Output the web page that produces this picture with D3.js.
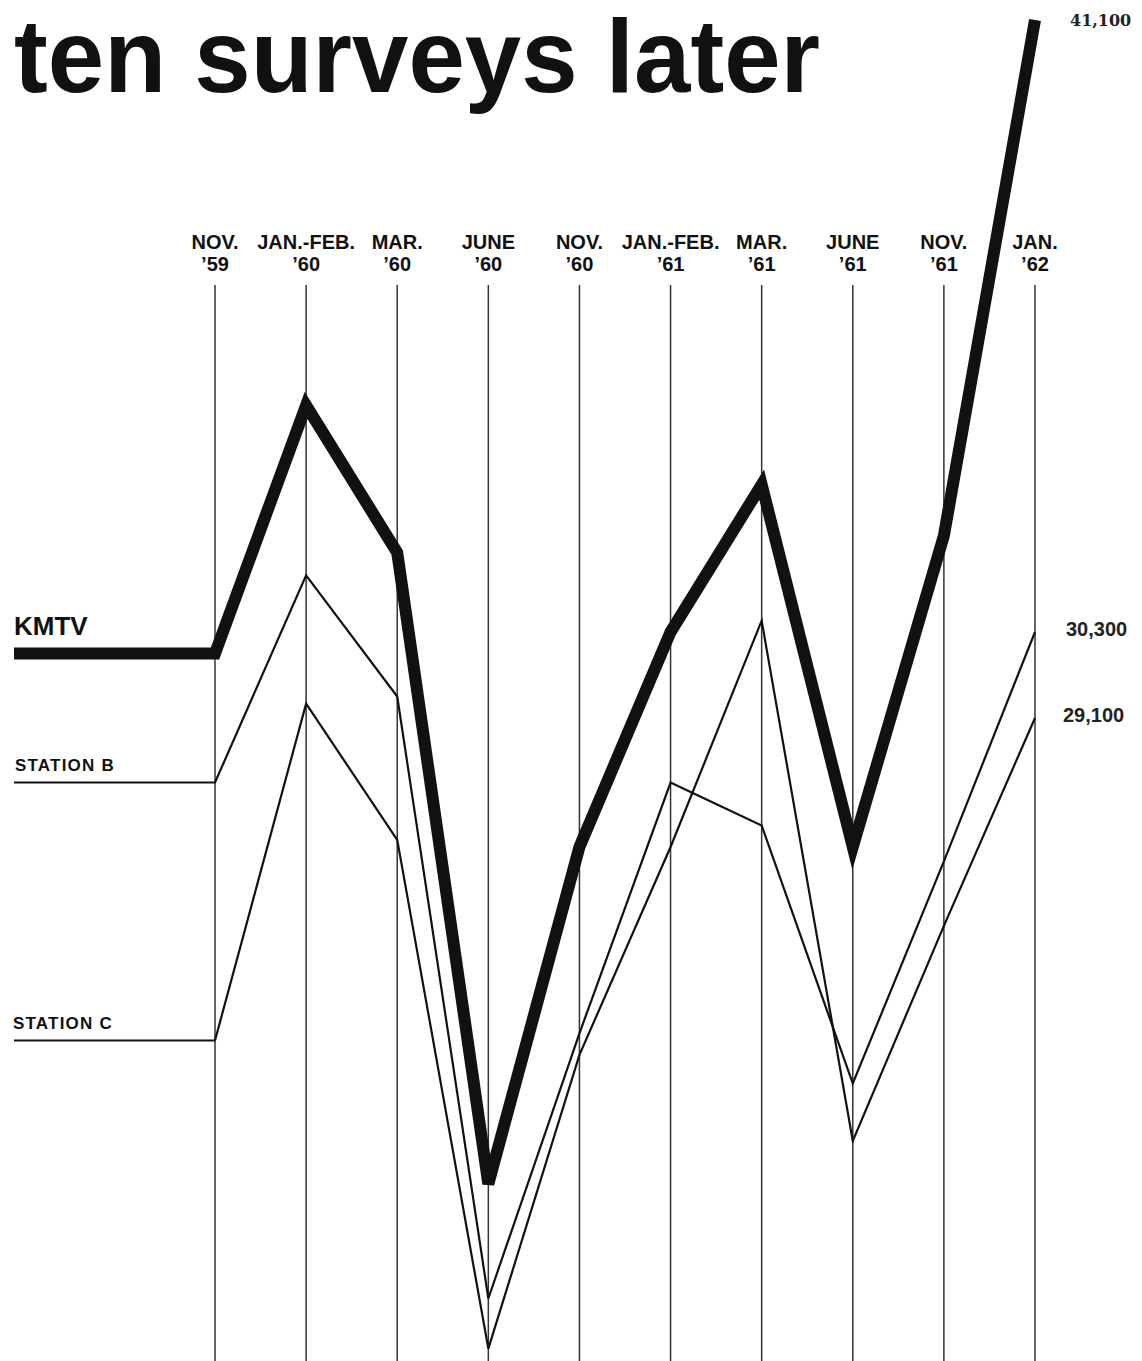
<!DOCTYPE html>
<html lang="en">
<head>
  <meta charset="UTF-8">
  <title>ten surveys later</title>
  <script src="https://d3js.org/d3.v7.min.js"></script>
  <style>
    body {
      margin: 0;
      background: #fff;
    }

    .title {
      font-family: "Liberation Sans", Arial, sans-serif;
      font-weight: bold;
      font-size: 104px;
      fill: #111;
    }

    .survey-label {
      font-family: "Liberation Sans", Arial, sans-serif;
      font-weight: bold;
      font-size: 20px;
      fill: #111;
      text-anchor: middle;
    }

    .station-label {
      font-family: "Liberation Sans", Arial, sans-serif;
      font-weight: bold;
      font-size: 17px;
      letter-spacing: 1.2px;
      fill: #111;
    }

    .end-label {
      font-family: "Liberation Sans", Arial, sans-serif;
      font-weight: bold;
      font-size: 20px;
      fill: #222;
    }
  </style>
</head>
<body>
  <div id="chart"></div>

  <script>
    // Survey periods (two-line labels above each vertical rule)
    const surveyMonths = ["NOV.", "JAN.-FEB.", "MAR.", "JUNE", "NOV.", "JAN.-FEB.", "MAR.", "JUNE", "NOV.", "JAN."];
    const surveyYears  = ["’59", "’60", "’60", "’60", "’60", "’61", "’61", "’61", "’61", "’62"];

    // Audience per survey
    const kmtv     = [30000, 34300, 31700, 22600, 27300, 30300, 32900, 27300, 32000, 41100];
    const stationB = [28200, 31300, 29400, 21000, 24700, 28200, 27600, 24000, 27100, 30300];
    const stationC = [24600, 29300, 27400, 20300, 24400, 27300, 30500, 23200, 26200, 29100];

    const width = 1142, height = 1361;

    const svg = d3.select("#chart")
      .append("svg")
      .attr("width", width)
      .attr("height", height);

    svg.append("rect")
      .attr("width", width)
      .attr("height", height)
      .attr("fill", "#fff");

    // X: one rule per survey
    const x = d3.scalePoint()
      .domain(d3.range(surveyMonths.length))
      .range([215, 1035]);

    // Y: the original isn't drawn to one straight scale, so use a
    // piecewise scale pinned on the three printed end values
    const y = d3.scaleLinear()
      .domain([29100, 30300, 41100])
      .range([718, 632, 20]);

    const leadX = 14;   // where the station lines start on the left

    // Title
    svg.append("text")
      .attr("class", "title")
      .attr("x", 14)
      .attr("y", 92)
      .attr("textLength", 806)
      .attr("lengthAdjust", "spacingAndGlyphs")
      .text("ten surveys later");

    // Vertical rules
    svg.append("g")
      .selectAll("line")
      .data(x.domain())
      .join("line")
      .attr("x1", d => x(d))
      .attr("x2", d => x(d))
      .attr("y1", 285)
      .attr("y2", height)
      .attr("stroke", "#333")
      .attr("stroke-width", 1.5);

    // Survey labels
    const labels = svg.append("g")
      .selectAll("text")
      .data(x.domain())
      .join("text")
      .attr("class", "survey-label");

    labels.append("tspan")
      .attr("x", d => x(d))
      .attr("y", 249)
      .text(d => surveyMonths[d]);

    labels.append("tspan")
      .attr("x", d => x(d))
      .attr("y", 271)
      .text(d => surveyYears[d]);

    // Line generator: lead-in from the left edge, then one point per survey
    const line = d3.line()
      .x(d => d.x)
      .y(d => y(d.v));

    function points(values) {
      return [{ x: leadX, v: values[0] }]
        .concat(values.map((v, i) => ({ x: x(i), v: v })));
    }

    const series = [
      { name: "STATION  C", values: stationC, width: 2.2 },
      { name: "STATION  B", values: stationB, width: 2.2 },
      { name: "KMTV",       values: kmtv,     width: 12 }
    ];

    svg.append("g")
      .selectAll("path")
      .data(series)
      .join("path")
      .attr("d", d => line(points(d.values)))
      .attr("fill", "none")
      .attr("stroke", "#111")
      .attr("stroke-width", d => d.width)
      .attr("stroke-linejoin", "miter")
      .attr("stroke-miterlimit", 4);

    // Station names above the lead-ins
    svg.append("text")
      .attr("x", 14)
      .attr("y", y(kmtv[0]) - 19)
      .style("font-family", "'Liberation Sans', Arial, sans-serif")
      .style("font-weight", "bold")
      .style("font-size", "26px")
      .attr("fill", "#111")
      .text("KMTV");

    svg.append("text")
      .attr("class", "station-label")
      .attr("x", 15)
      .attr("y", y(stationB[0]) - 12)
      .text("STATION  B");

    svg.append("text")
      .attr("class", "station-label")
      .attr("x", 13)
      .attr("y", y(stationC[0]) - 12)
      .text("STATION  C");

    // End values on the right
    const fmt = d3.format(",");

    svg.append("text")
      .attr("x", 1070)
      .attr("y", y(kmtv[kmtv.length - 1]) + 6)
      .style("font-family", "'DejaVu Serif', serif")
      .style("font-weight", "bold")
      .style("font-size", "16px")
      .attr("fill", "#222")
      .text(fmt(kmtv[kmtv.length - 1]));

    svg.append("text")
      .attr("class", "end-label")
      .attr("x", 1066)
      .attr("y", y(stationB[stationB.length - 1]) + 4)
      .text(fmt(stationB[stationB.length - 1]));

    svg.append("text")
      .attr("class", "end-label")
      .attr("x", 1063)
      .attr("y", y(stationC[stationC.length - 1]) + 4)
      .text(fmt(stationC[stationC.length - 1]));
  </script>
</body>
</html>
